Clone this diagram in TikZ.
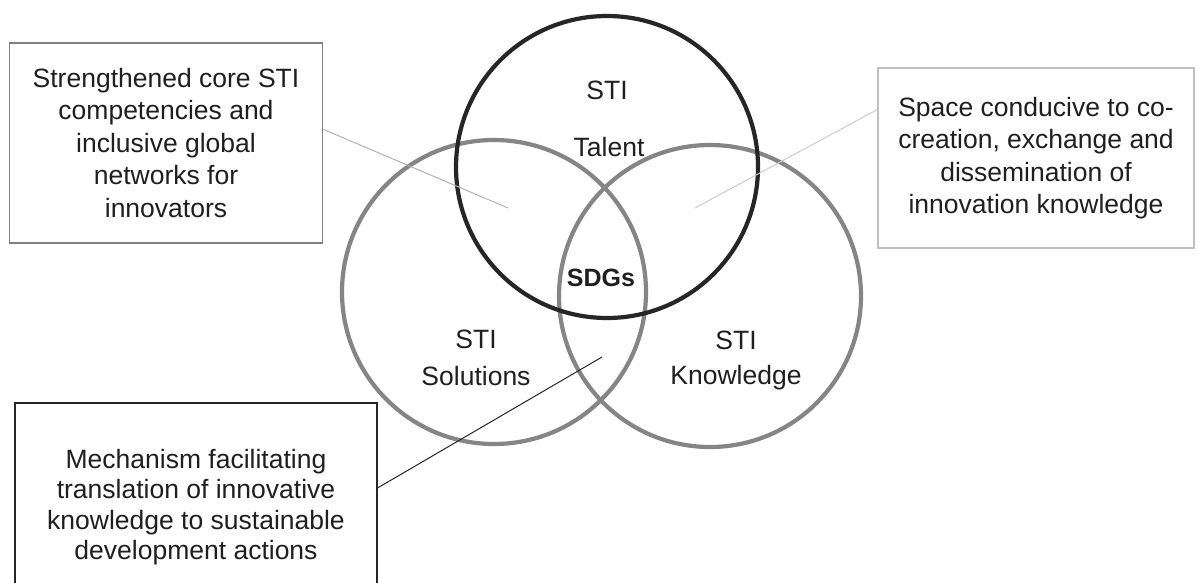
\documentclass[tikz,border=0pt]{standalone}
\usepackage{fontspec}
\setmainfont{Liberation Sans}
\begin{document}
\begin{tikzpicture}[x=1pt, y=-1pt,
  ring/.style={line width=4.2pt, draw=#1},
  textbox/.style={draw=#1, line width=1.3pt, align=center, inner sep=0pt,
    font=\fontsize{26.5}{32.5}\selectfont, text=black!88},
  tag/.style={font=\fontsize{26.5}{32.5}\selectfont, text=black!88},
  lead/.style={draw=#1, line width=1pt}]
% page of the scan, 1198 x 582
\clip (0,0) rectangle (1198,582);
\fill[white] (0,0) rectangle (1198,582);

% the three circles
\draw[ring=black!48] (494,292) circle[radius=152pt];
\draw[ring=black!48] (710,296) circle[radius=151pt];
\draw[ring=black!85] (607,167) circle[radius=151pt];

% circle labels
\node[tag] (talent1) at (607,90) {STI};
\node[tag] (talent2) at (609,147) {Talent};
\node[tag, font=\fontsize{25}{30}\selectfont\bfseries] (sdgs) at (601,278) {SDGs};
\node[tag, align=center, font=\fontsize{26.5}{37}\selectfont] (solutions) at (476,358) {STI\\Solutions};
\node[tag, align=center, font=\fontsize{26.5}{35}\selectfont] (knowledge) at (736,360) {STI\\Knowledge};

% the boxes
\node[textbox=black!50, minimum width=313pt, minimum height=200pt] (box1) at (166,143)
  {Strengthened core STI\\competencies and\\inclusive global\\networks for\\innovators};
\node[textbox=black!25, minimum width=316pt, minimum height=180pt] (box2) at (1036,158)
  {Space conducive to co-\\creation, exchange and\\dissemination of\\innovation knowledge};
\node[textbox=black!85, minimum width=362pt, minimum height=208pt,
  font=\fontsize{26.5}{30.5}\selectfont] (box3) at (196,507)
  {Mechanism facilitating\\translation of innovative\\knowledge to sustainable\\development actions};

% where the leader lines end
\coordinate (c1) at (508,208);
\coordinate (c2) at (695,208);
\coordinate (c3) at (602,357);

\draw[lead=black!30] (box1.5) -- (c1);
\draw[lead=black!20] (box2.163) -- (c2);
\draw[lead=black!85] (box3.6) -- (c3);
\end{tikzpicture}
\end{document}
